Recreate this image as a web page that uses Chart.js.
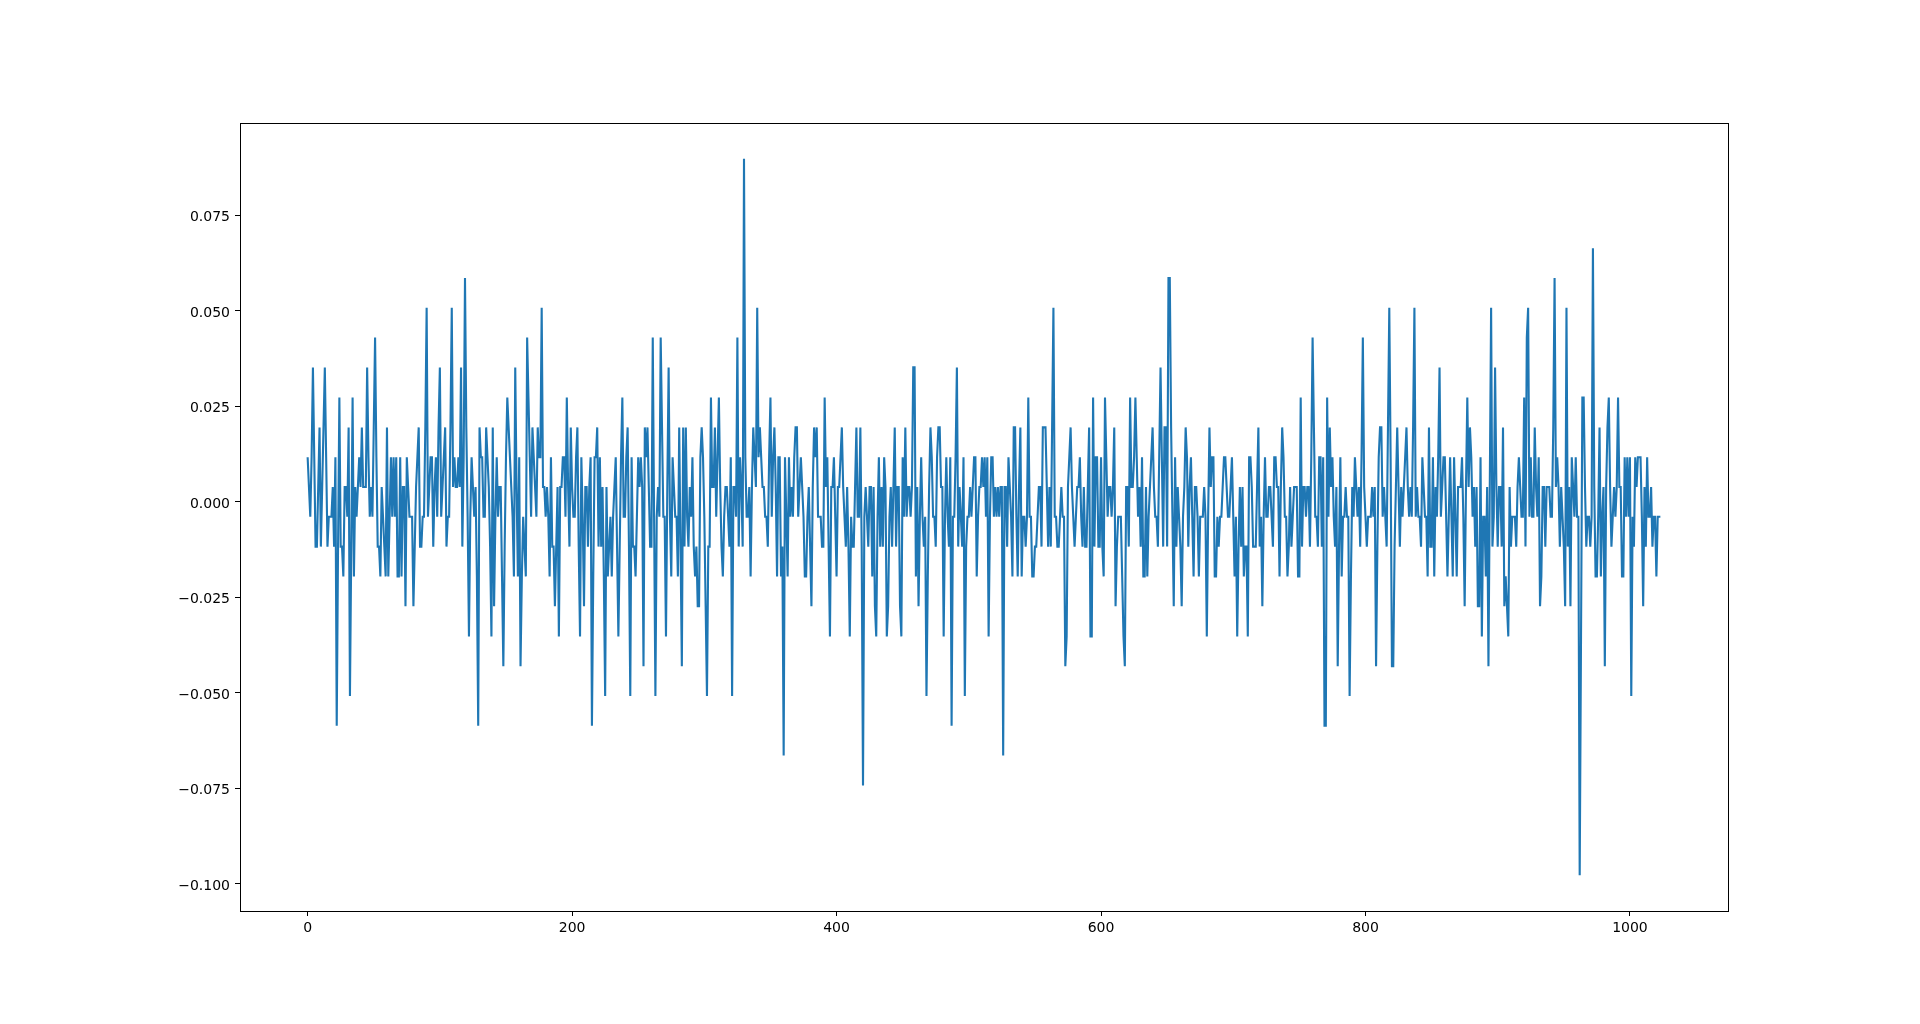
<!DOCTYPE html>
<html>
<head>
<meta charset="utf-8">
<script src="https://cdn.jsdelivr.net/npm/chart.js@4.4.1/dist/chart.umd.min.js"></script>
<style>
  html, body { margin: 0; padding: 0; background: #fff; }
  canvas { display: block; }
</style>
</head>
<body>
<canvas id="chart" width="1920" height="1024"></canvas>
<script>
// Werte (Stufen von 1/128)
const sampleValues = [
  0.0117, 0.0039, -0.0039, 0.0117, 0.0352, 0.0117, -0.0117, -0.0117, 0.0039, 0.0195, -0.0117, 0.0039, 0.0195, 0.0352, 0.0117, -0.0117, -0.0039, -0.0039, -0.0039, 0.0039,
  -0.0117, 0.0117, -0.0586, -0.0117, 0.0273, -0.0117, -0.0117, -0.0195, 0.0039, 0.0039, -0.0039, 0.0195, -0.0508, -0.0117, 0.0273, -0.0195, 0.0039, -0.0039, 0.0039, 0.0117,
  0.0039, 0.0195, 0.0039, 0.0039, 0.0039, 0.0352, 0.0117, -0.0039, 0.0039, -0.0039, 0.0195, 0.043, 0.0117, -0.0117, -0.0117, -0.0195, 0.0039, -0.0039, -0.0117, -0.0195,
  0.0195, -0.0195, -0.0039, 0.0117, -0.0039, 0.0117, -0.0039, 0.0117, -0.0195, -0.0195, 0.0117, -0.0195, 0.0039, 0.0039, -0.0273, 0.0117, 0.0039, -0.0039, -0.0039, -0.0039,
  -0.0273, -0.0117, 0.0039, 0.0117, 0.0195, -0.0117, -0.0117, -0.0039, -0.0039, 0.0195, 0.0508, -0.0039, 0.0039, 0.0117, 0.0117, -0.0117, 0.0039, 0.0117, -0.0039, 0.0195,
  0.0352, -0.0039, 0.0039, 0.0117, 0.0195, -0.0117, -0.0039, -0.0039, 0.0195, 0.0508, 0.0039, 0.0117, 0.0039, 0.0039, 0.0117, 0.0039, 0.0352, -0.0117, 0.0117, 0.0586,
  0.0195, -0.0039, -0.0352, -0.0039, 0.0117, 0.0039, -0.0039, 0.0039, -0.0195, -0.0586, 0.0195, 0.0117, 0.0117, -0.0039, -0.0039, 0.0195, 0.0117, 0.0039, -0.0117, -0.0352,
  0.0195, -0.0273, -0.0039, 0.0117, -0.0039, 0.0039, 0.0039, -0.0195, -0.043, -0.0117, 0.0117, 0.0273, 0.0195, 0.0117, 0.0039, -0.0039, -0.0195, 0.0352, 0.0039, -0.0195,
  0.0117, -0.043, -0.0195, -0.0039, -0.0117, -0.0195, 0.043, 0.0273, 0.0117, -0.0039, 0.0195, 0.0117, 0.0039, -0.0039, 0.0195, 0.0117, 0.0117, 0.0508, 0.0039, 0.0039,
  -0.0039, 0.0039, -0.0039, -0.0195, 0.0117, -0.0117, -0.0117, -0.0273, -0.0117, 0.0039, -0.0352, 0.0039, 0.0039, 0.0117, 0.0117, -0.0039, 0.0273, 0.0039, -0.0117, 0.0195,
  0.0039, -0.0039, -0.0039, 0.0117, 0.0195, -0.0117, -0.0352, 0.0117, -0.0039, -0.0273, 0.0039, 0.0039, -0.0117, 0.0039, 0.0117, -0.0586, -0.0195, 0.0117, 0.0117, 0.0195,
  -0.0117, 0.0117, -0.0117, 0.0039, -0.0195, -0.0508, 0.0039, -0.0195, -0.0117, -0.0039, -0.0195, -0.0039, 0.0039, 0.0117, -0.0117, -0.0352, -0.0117, 0.0117, 0.0273, -0.0039,
  -0.0039, 0.0117, 0.0195, -0.0117, -0.0508, 0.0117, -0.0117, -0.0117, -0.0195, -0.0039, 0.0117, 0.0039, 0.0117, 0.0039, -0.043, 0.0195, 0.0117, 0.0195, 0.0039, -0.0117,
  -0.0117, 0.043, -0.0039, -0.0508, -0.0039, 0.0039, -0.0039, 0.043, 0.0195, -0.0039, -0.0039, -0.0352, 0.0039, 0.0352, -0.0039, -0.0195, 0.0117, 0.0039, -0.0039, -0.0039,
  -0.0195, 0.0195, -0.0117, -0.043, 0.0195, -0.0117, 0.0195, -0.0039, -0.0117, 0.0039, -0.0039, 0.0117, -0.0117, -0.0195, -0.0117, -0.0273, -0.0273, 0.0117, 0.0195, 0.0117,
  -0.0039, -0.0273, -0.0508, -0.0117, -0.0117, 0.0273, 0.0039, 0.0039, 0.0195, -0.0039, 0.0117, 0.0273, 0.0039, -0.0117, -0.0195, -0.0039, 0.0039, 0.0039, -0.0039, -0.0117,
  0.0117, -0.0508, 0.0039, 0.0039, -0.0039, 0.043, -0.0117, 0.0117, 0.0039, -0.0117, 0.0898, 0.0117, -0.0039, -0.0039, 0.0039, -0.0195, 0.0039, 0.0195, 0.0117, 0.0039,
  0.0508, 0.0117, 0.0195, 0.0117, 0.0039, 0.0039, -0.0039, -0.0039, -0.0117, 0.0117, 0.0273, -0.0039, 0.0117, 0.0195, 0.0039, -0.0195, 0.0117, 0.0117, -0.0195, -0.0117,
  -0.0664, 0.0117, -0.0039, -0.0195, 0.0117, -0.0039, 0.0039, -0.0039, 0.0117, 0.0195, 0.0195, -0.0039, 0.0039, 0.0117, 0.0039, -0.0039, -0.0195, -0.0195, -0.0039, 0.0039,
  -0.0117, -0.0273, 0.0039, 0.0195, 0.0117, 0.0195, -0.0039, -0.0039, -0.0039, -0.0117, -0.0117, 0.0273, 0.0039, 0.0117, -0.0117, -0.0352, 0.0039, 0.0039, 0.0117, -0.0039,
  -0.0195, 0.0039, 0.0039, 0.0117, 0.0195, 0.0039, -0.0039, -0.0117, 0.0039, -0.0117, -0.0352, -0.0039, -0.0117, -0.0117, 0.0039, 0.0195, -0.0039, -0.0039, 0.0195, -0.0117,
  -0.0742, -0.0039, 0.0039, -0.0039, -0.0117, 0.0039, 0.0039, -0.0195, 0.0039, -0.0273, -0.0352, -0.0039, 0.0117, -0.0117, 0.0039, -0.0117, 0.0117, 0.0039, -0.0352, -0.0273,
  -0.0039, 0.0039, -0.0117, 0.0039, 0.0195, -0.0117, 0.0039, 0.0039, -0.0273, -0.0352, 0.0117, -0.0039, 0.0195, -0.0039, 0.0039, 0.0039, -0.0039, 0.0039, 0.0352, 0.0352,
  -0.0195, 0.0039, -0.0273, -0.0039, 0.0117, -0.0039, -0.0117, -0.0039, -0.0508, -0.0195, 0.0039, 0.0195, 0.0117, -0.0039, -0.0039, -0.0117, 0.0117, 0.0195, 0.0195, 0.0039,
  0.0039, -0.0352, -0.0039, 0.0117, -0.0039, -0.0117, 0.0117, -0.0586, -0.0039, -0.0039, 0.0117, 0.0352, -0.0117, 0.0039, -0.0039, -0.0117, 0.0117, -0.0508, -0.0117, -0.0039,
  -0.0039, 0.0039, -0.0039, 0.0039, 0.0117, 0.0117, -0.0195, -0.0039, 0.0039, 0.0039, 0.0117, 0.0039, 0.0117, -0.0039, 0.0117, -0.0352, -0.0039, 0.0117, 0.0117, -0.0039,
  0.0039, -0.0039, 0.0039, -0.0039, 0.0039, 0.0039, -0.0664, 0.0039, 0.0039, -0.0117, 0.0117, 0.0039, -0.0039, -0.0195, 0.0195, 0.0195, -0.0039, -0.0195, 0.0039, 0.0195,
  -0.0195, -0.0039, -0.0039, -0.0117, -0.0039, 0.0273, -0.0039, -0.0039, -0.0195, -0.0195, -0.0117, -0.0117, -0.0039, 0.0039, 0.0039, -0.0117, 0.0195, 0.0195, 0.0195, 0.0039,
  -0.0117, 0.0039, -0.0117, 0.0195, 0.0508, -0.0039, -0.0039, -0.0117, -0.0117, -0.0039, 0.0039, -0.0039, -0.0039, -0.043, -0.0352, 0.0039, 0.0117, 0.0195, 0.0039, -0.0039,
  -0.0117, -0.0039, 0.0039, 0.0039, 0.0117, -0.0039, -0.0117, 0.0039, -0.0117, -0.0117, 0.0039, 0.0195, -0.0352, -0.0352, 0.0273, -0.0117, 0.0117, 0.0117, -0.0117, -0.0117,
  0.0117, -0.0117, -0.0195, 0.0273, 0.0117, -0.0039, 0.0039, 0.0039, -0.0039, 0.0039, 0.0195, -0.0273, -0.0117, -0.0039, -0.0039, -0.0039, -0.0195, -0.0352, -0.043, 0.0039,
  0.0039, -0.0117, 0.0273, 0.0039, 0.0039, 0.0117, 0.0273, 0.0117, -0.0039, 0.0039, -0.0117, 0.0117, -0.0195, -0.0195, 0.0039, -0.0195, -0.0039, 0.0039, 0.0117, 0.0195,
  0.0039, -0.0039, -0.0039, -0.0117, 0.0117, 0.0352, 0.0117, -0.0117, 0.0195, 0.0195, -0.0117, 0.0586, 0.0586, 0.0195, -0.0039, -0.0273, 0.0117, -0.0117, 0.0039, -0.0039,
  -0.0117, -0.0273, -0.0039, 0.0039, 0.0195, 0.0117, -0.0117, 0.0039, 0.0117, -0.0039, -0.0195, 0.0039, 0.0039, -0.0039, -0.0195, -0.0039, -0.0039, -0.0039, 0.0039, -0.0039,
  -0.0352, -0.0039, 0.0195, 0.0039, 0.0117, 0.0117, -0.0195, -0.0195, -0.0039, -0.0117, -0.0039, -0.0039, 0.0039, 0.0117, 0.0117, 0.0039, -0.0039, -0.0039, 0.0039, 0.0117,
  -0.0039, -0.0195, -0.0039, -0.0352, -0.0117, 0.0039, -0.0117, 0.0039, -0.0195, -0.0117, -0.0117, -0.0352, 0.0117, 0.0117, 0.0039, -0.0117, -0.0117, -0.0117, 0.0039, 0.0195,
  -0.0117, -0.0039, -0.0273, -0.0039, 0.0117, -0.0039, -0.0039, 0.0039, 0.0039, -0.0039, -0.0117, 0.0117, 0.0117, 0.0039, 0.0039, -0.0195, 0.0039, 0.0195, 0.0117, -0.0039,
  -0.0039, -0.0195, -0.0117, 0.0039, -0.0117, -0.0039, 0.0039, 0.0039, 0.0039, -0.0195, -0.0195, 0.0273, -0.0117, 0.0039, 0.0039, -0.0039, 0.0039, 0.0039, -0.0117, 0.0117,
  0.043, 0.0195, -0.0039, -0.0039, -0.0117, 0.0117, 0.0117, -0.0117, 0.0117, -0.0586, -0.0586, 0.0273, -0.0039, 0.0195, 0.0039, 0.0117, -0.0039, -0.0117, 0.0039, -0.043,
  -0.0117, 0.0117, -0.0195, -0.0039, -0.0039, 0.0039, -0.0039, -0.0039, -0.0508, -0.0195, 0.0039, -0.0039, 0.0117, 0.0039, -0.0039, 0.0039, -0.0117, 0.0117, 0.043, 0.0039,
  -0.0039, -0.0117, -0.0039, -0.0039, -0.0039, 0.0039, -0.0039, 0.0039, -0.043, -0.0117, 0.0117, 0.0195, 0.0195, -0.0039, 0.0039, -0.0039, -0.0117, 0.0195, 0.0508, 0.0117,
  -0.043, -0.043, -0.0117, 0.0039, 0.0195, 0.0039, -0.0117, 0.0039, -0.0039, 0.0039, 0.0117, 0.0195, 0.0039, -0.0039, 0.0039, -0.0039, 0.0195, 0.0508, -0.0039, 0.0039,
  -0.0039, -0.0039, -0.0117, 0.0117, 0.0039, -0.0039, -0.0039, -0.0195, 0.0195, -0.0117, -0.0117, 0.0117, -0.0195, 0.0039, -0.0039, 0.0117, 0.0352, -0.0039, 0.0039, 0.0117,
  0.0117, -0.0039, -0.0195, -0.0039, 0.0117, -0.0039, -0.0195, 0.0117, -0.0039, -0.0195, 0.0039, 0.0039, 0.0039, 0.0117, -0.0039, -0.0273, 0.0039, 0.0273, 0.0039, 0.0195,
  0.0117, -0.0039, 0.0039, -0.0117, 0.0039, -0.0273, -0.0273, 0.0117, -0.0352, -0.0039, -0.0039, -0.0195, 0.0039, -0.043, 0.0039, 0.0508, -0.0117, -0.0039, 0.0352, 0.0039,
  -0.0117, 0.0039, 0.0039, -0.0117, 0.0195, -0.0273, -0.0195, -0.0273, -0.0352, 0.0039, -0.0117, -0.0039, -0.0039, -0.0039, -0.0117, 0.0039, 0.0117, 0.0039, -0.0039, -0.0039,
  0.0273, -0.0117, 0.043, 0.0508, -0.0039, 0.0117, -0.0039, -0.0039, 0.0195, 0.0039, -0.0039, 0.0117, -0.0273, -0.0195, 0.0039, 0.0039, -0.0117, 0.0039, 0.0039, 0.0039,
  -0.0039, -0.0039, 0.0195, 0.0586, 0.0039, 0.0117, 0.0039, -0.0117, 0.0039, -0.0039, -0.0117, -0.0273, 0.0508, -0.0117, 0.0039, -0.0273, 0.0117, 0.0039, -0.0039, 0.0117,
  -0.0039, -0.0039, -0.0977, -0.0352, 0.0273, 0.0273, 0.0039, -0.0117, -0.0039, -0.0039, -0.0117, -0.0039, 0.0664, 0.0039, -0.0195, -0.0195, -0.0039, 0.0195, -0.0195, -0.0039,
  0.0039, -0.043, 0.0039, 0.0195, 0.0273, 0.0039, -0.0117, -0.0039, 0.0039, -0.0039, 0.0039, 0.0273, 0.0039, 0.0039, -0.0195, -0.0195, 0.0117, -0.0039, 0.0117, -0.0039,
  0.0117, -0.0508, -0.0039, -0.0117, 0.0117, 0.0039, 0.0117, 0.0117, 0.0117, -0.0039, -0.0273, 0.0039, -0.0117, 0.0117, -0.0039, -0.0039, 0.0039, -0.0117, -0.0039, -0.0039,
  -0.0195, -0.0039, -0.0039, -0.0039
];

const xTickValues = [0, 200, 400, 600, 800, 1000];
const yTickValues = [-0.1, -0.075, -0.05, -0.025, 0, 0.025, 0.05, 0.075];

const points = sampleValues.map((v, i) => ({ x: i, y: v }));

// Achsengrenzen wie bei matplotlib: 5% Rand
const xLast = sampleValues.length - 1;
const yLo = Math.min(...sampleValues);
const yHi = Math.max(...sampleValues);
const xPad = xLast * 0.05;
const yPad = (yHi - yLo) * 0.05;

const tickFont = { family: 'DejaVu Sans', size: 14 };

// Rahmen um die Zeichenfläche
const framePlugin = {
    id: 'frame',
    afterDraw(chart) {
        const a = chart.chartArea;
        const ctx = chart.ctx;
        ctx.save();
        ctx.strokeStyle = '#000';
        ctx.lineWidth = 1;
        ctx.strokeRect(Math.round(a.left) + 0.5, Math.round(a.top) + 0.5,
            Math.round(a.right - a.left), Math.round(a.bottom - a.top));
        ctx.restore();
    }
};

const ctx = document.getElementById('chart').getContext('2d');
new Chart(ctx, {
    type: 'line',
    data: {
        datasets: [{
            data: points,
            borderColor: '#1f77b4',
            borderWidth: 2.1,
            pointRadius: 0,
            fill: false,
            tension: 0
        }]
    },
    options: {
        responsive: false,
        animation: false,
        devicePixelRatio: 1,
        layout: { padding: { left: 0, right: 192, top: 123, bottom: 0 } },
        plugins: {
            legend: { display: false },
            tooltip: { enabled: false }
        },
        scales: {
            x: {
                type: 'linear',
                min: -xPad,
                max: xLast + xPad,
                afterBuildTicks: s => { s.ticks = xTickValues.map(v => ({ value: v })); },
                afterFit: s => { s.height = 113; },
                ticks: {
                    color: '#000',
                    font: tickFont,
                    padding: 4,
                    maxRotation: 0,
                    autoSkip: false,
                    callback: v => String(v)
                },
                grid: { drawOnChartArea: false, drawTicks: true, tickLength: 5, color: '#000' },
                border: { display: false }
            },
            y: {
                type: 'linear',
                min: yLo - yPad,
                max: yHi + yPad,
                afterBuildTicks: s => { s.ticks = yTickValues.map(v => ({ value: v })); },
                afterFit: s => { s.width = 240; },
                ticks: {
                    color: '#000',
                    font: tickFont,
                    padding: 5,
                    labelOffset: 2,
                    autoSkip: false,
                    callback: v => v.toFixed(3).replace('-', '\u2212')
                },
                grid: { drawOnChartArea: false, drawTicks: true, tickLength: 5, color: '#000' },
                border: { display: false }
            }
        }
    },
    plugins: [framePlugin]
});
</script>
</body>
</html>
